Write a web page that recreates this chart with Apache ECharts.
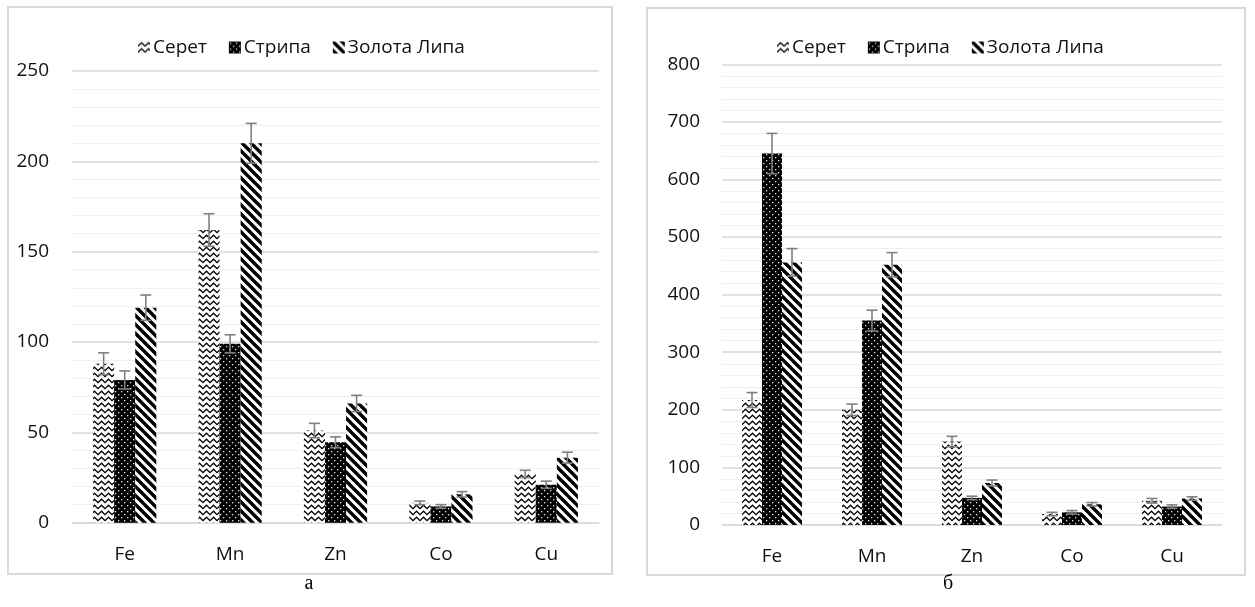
<!DOCTYPE html>
<html>
<head>
<meta charset="utf-8">
<script src="https://cdn.jsdelivr.net/npm/echarts@6/dist/echarts.min.js"></script>
<style>
html,body{margin:0;padding:0;background:#fff;}
#chart{width:1255px;height:607px;}
</style>
</head>
<body>
<div id="chart"></div>
<script>
// ---- data ----
const categories = ['Fe', 'Mn', 'Zn', 'Co', 'Cu'];
const seriesNames = ['Серет', 'Стрипа', 'Золота Липа'];

const leftSeret = [88, 162, 51, 11, 27];
const leftSeretErr = [6, 9, 4, 1, 2];
const leftStrypa = [79, 99, 44.5, 9, 21];
const leftStrypaErr = [5, 5, 3, 1, 2];
const leftZolota = [119, 210, 66, 15.7, 36];
const leftZolotaErr = [7, 11, 4.5, 1.5, 3];

const rightSeret = [217, 200, 145, 19, 42];
const rightSeretErr = [13, 10, 9, 3, 4];
const rightStrypa = [645, 355, 47, 22, 32];
const rightStrypaErr = [35, 18, 3, 3, 3];
const rightZolota = [456, 452, 73, 36, 46];
const rightZolotaErr = [24, 21, 5, 3, 3];

const leftAxis = { min: 0, max: 250, interval: 50 };
const rightAxis = { min: 0, max: 800, interval: 100 };
const captions = ['а', 'б'];

// ---- patterns ----
function tile(w, h, draw) {
  const c = document.createElement('canvas');
  c.width = w; c.height = h;
  const ctx = c.getContext('2d');
  draw(ctx, w, h);
  return { image: c, repeat: 'repeat' };
}
const wavePattern = tile(7, 6, (ctx, w, h) => {
  ctx.fillStyle = '#fff'; ctx.fillRect(0, 0, w, h);
  ctx.strokeStyle = '#000'; ctx.lineWidth = 1.3;
  ctx.beginPath();
  ctx.moveTo(-0.5, 5); ctx.lineTo(3.5, 1.2); ctx.lineTo(7.5, 5);
  ctx.stroke();
});
const dotPattern = tile(6, 6, (ctx, w, h) => {
  ctx.fillStyle = '#000'; ctx.fillRect(0, 0, w, h);
  ctx.fillStyle = '#e8e8e8';
  ctx.fillRect(1, 1, 1.3, 1.3);
  ctx.fillRect(4, 4, 1.3, 1.3);
});
const stripePattern = tile(9, 9, (ctx, w, h) => {
  ctx.fillStyle = '#fff'; ctx.fillRect(0, 0, w, h);
  ctx.strokeStyle = '#000'; ctx.lineWidth = 3.4;
  ctx.beginPath();
  for (let k = -1; k <= 1; k++) {
    ctx.moveTo(-1, k * 9 - 1); ctx.lineTo(w + 1, k * 9 + w + 1);
  }
  ctx.stroke();
});
const patterns = [wavePattern, dotPattern, stripePattern];

// ---- chart ----
const chart = echarts.init(document.getElementById('chart'), null, { renderer: 'canvas' });
const FONT = '"Open Sans", "Noto Sans", sans-serif';
const labelColor = '#111';

function yAxisOpt(gridIndex, ax, margin) {
  return {
    type: 'value', gridIndex: gridIndex,
    min: ax.min, max: ax.max, interval: ax.interval,
    axisLine: { show: false }, axisTick: { show: false },
    axisLabel: { color: labelColor, fontSize: 19, fontFamily: FONT, margin: margin },
    splitLine: { show: true, lineStyle: { color: '#d9d9d9', width: 1.5 } },
    minorTick: { show: false, splitNumber: 5 },
    minorSplitLine: { show: true, lineStyle: { color: '#efefef', width: 1.2 } }
  };
}
function xAxisOpt(gridIndex, margin) {
  return {
    type: 'category', gridIndex: gridIndex, data: categories,
    axisLine: { show: true, lineStyle: { color: '#d9d9d9', width: 1.5 } },
    axisTick: { show: false },
    axisLabel: { color: labelColor, fontSize: 19, fontFamily: FONT, margin: margin }
  };
}
function barSeries(name, data, idx, axisIdx) {
  return {
    type: 'bar', name: name, data: data,
    xAxisIndex: axisIdx, yAxisIndex: axisIdx,
    barGap: '0%', barCategoryGap: '40%',
    itemStyle: { color: patterns[idx] },
    emphasis: { disabled: true },
    animation: false
  };
}
function errSeries(vals, errs, axisIdx) {
  const data = [];
  for (let s = 0; s < vals.length; s++) {
    for (let i = 0; i < categories.length; i++) {
      data.push([i, vals[s][i] - errs[s][i], vals[s][i] + errs[s][i], s]);
    }
  }
  return {
    type: 'custom', xAxisIndex: axisIdx, yAxisIndex: axisIdx,
    z: 10, silent: true, animation: false,
    encode: { x: 0, y: [1, 2] },
    data: data,
    renderItem: function (params, api) {
      const ci = api.value(0);
      const lo = api.coord([ci, api.value(1)]);
      const hi = api.coord([ci, api.value(2)]);
      const band = api.size([1, 0])[0];
      const bw = band * 0.2;
      const x = lo[0] + (api.value(3) - 1) * bw;
      const cap = 5.5;
      const st = { stroke: '#808080', lineWidth: 1.6 };
      return {
        type: 'group',
        children: [
          { type: 'line', shape: { x1: x, y1: lo[1], x2: x, y2: hi[1] }, style: st },
          { type: 'line', shape: { x1: x - cap, y1: lo[1], x2: x + cap, y2: lo[1] }, style: st },
          { type: 'line', shape: { x1: x - cap, y1: hi[1], x2: x + cap, y2: hi[1] }, style: st }
        ]
      };
    }
  };
}
function legendOpt(leftX) {
  return {
    data: seriesNames, left: leftX, top: 33,
    itemWidth: 12, itemHeight: 12, itemGap: 22,
    icon: 'rect',
    textStyle: { color: labelColor, fontSize: 19, fontFamily: FONT, padding: [0, 0, 0, -2] },
    selectedMode: false
  };
}

const option = {
  backgroundColor: '#fff',
  animation: false,
  legend: [legendOpt(133), legendOpt(772)],
  grid: [
    { left: 72, top: 71, width: 527, height: 451.7 },
    { left: 722, top: 64.3, width: 500, height: 460.7 }
  ],
  xAxis: [xAxisOpt(0, 22), xAxisOpt(1, 22)],
  yAxis: [yAxisOpt(0, leftAxis, 23), yAxisOpt(1, rightAxis, 22)],
  series: [
    barSeries(seriesNames[0], leftSeret, 0, 0),
    barSeries(seriesNames[1], leftStrypa, 1, 0),
    barSeries(seriesNames[2], leftZolota, 2, 0),
    errSeries([leftSeret, leftStrypa, leftZolota], [leftSeretErr, leftStrypaErr, leftZolotaErr], 0),
    barSeries(seriesNames[0], rightSeret, 0, 1),
    barSeries(seriesNames[1], rightStrypa, 1, 1),
    barSeries(seriesNames[2], rightZolota, 2, 1),
    errSeries([rightSeret, rightStrypa, rightZolota], [rightSeretErr, rightStrypaErr, rightZolotaErr], 1)
  ],
  graphic: [
    { type: 'rect', z: -1, shape: { x: 8, y: 7, width: 604, height: 567 }, style: { fill: 'none', stroke: '#d9d9d9', lineWidth: 2 } },
    { type: 'rect', z: -1, shape: { x: 647, y: 8, width: 598, height: 567 }, style: { fill: 'none', stroke: '#d9d9d9', lineWidth: 2 } },
    { type: 'text', x: 309, y: 584, style: { text: captions[0], fill: '#000', font: '20px "Liberation Serif", "DejaVu Serif", serif', textAlign: 'center', textVerticalAlign: 'middle' } },
    { type: 'text', x: 948, y: 584, style: { text: captions[1], fill: '#000', font: '20px "Liberation Serif", "DejaVu Serif", serif', textAlign: 'center', textVerticalAlign: 'middle' } }
  ]
};
chart.setOption(option);
</script>
</body>
</html>
